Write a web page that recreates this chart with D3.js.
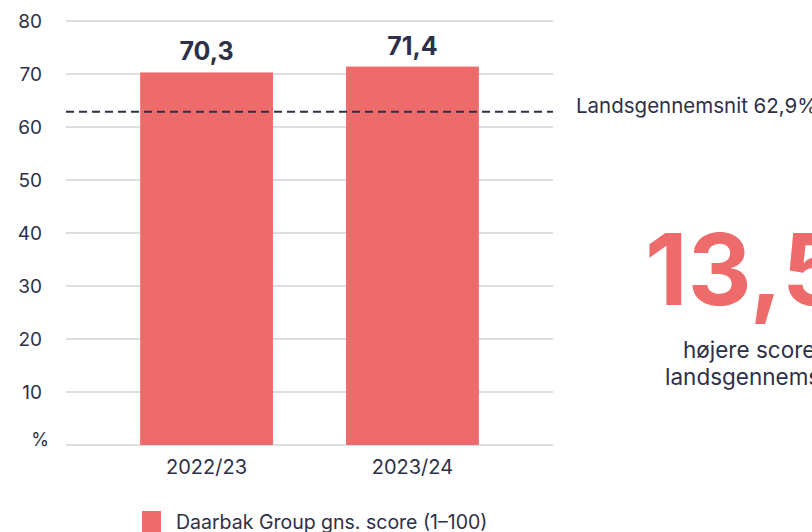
<!DOCTYPE html>
<html>
<head>
<meta charset="utf-8">
<script src="https://cdn.jsdelivr.net/npm/d3@7"></script>
<style>
  body { margin: 0; background: #fff; overflow: hidden; }
  text { font-family: Inter, "Noto Sans", sans-serif; fill: #2e3047; }
  .grid line { stroke: #d3d3d3; stroke-width: 1.5; }
  .bar { fill: #ee6b6b; }
</style>
</head>
<body>
<script>
// data
const categories = ["2022/23", "2023/24"];
const scores = [70.3, 71.4];
const national_avg = 62.9;
const y_ticks = [10, 20, 30, 40, 50, 60, 70, 80];
const series_name = "Daarbak Group gns. score (1–100)";
const big_number = "13,5";
const big_caption = ["højere score end", "landsgennemsnittet"];

const width = 812, height = 532;
const margin = {top: 21, right: 259, bottom: 87, left: 66};

const fmt = v => v.toFixed(1).replace(".", ",");

var svg = d3.select("body").append("svg")
    .attr("width", width)
    .attr("height", height);

var x = d3.scaleBand()
    .domain(categories)
    .range([margin.left, width - margin.right])
    .paddingInner(0.355)
    .paddingOuter(0.36);

var y = d3.scaleLinear()
    .domain([0, 80])
    .range([height - margin.bottom, margin.top]);

// gridlines
svg.append("g").attr("class", "grid")
    .selectAll("line")
    .data([0].concat(y_ticks))
    .enter().append("line")
    .attr("x1", margin.left)
    .attr("x2", width - margin.right)
    .attr("y1", d => y(d))
    .attr("y2", d => y(d));

// y labels
svg.append("g")
    .selectAll("text")
    .data(y_ticks)
    .enter().append("text")
    .attr("x", 42)
    .attr("y", d => y(d))
    .attr("dy", "0.36em")
    .attr("text-anchor", "end")
    .style("font-size", "19px")
    .text(d => d);

svg.append("text")
    .attr("x", 49)
    .attr("y", y(0) + 1)
    .attr("text-anchor", "end")
    .style("font-size", "18px")
    .text("%");

// bars
svg.selectAll(".bar")
    .data(scores)
    .enter().append("rect")
    .attr("class", "bar")
    .attr("x", (d, i) => x(categories[i]))
    .attr("width", x.bandwidth())
    .attr("y", d => y(d))
    .attr("height", d => y(0) - y(d));

// value labels
svg.selectAll(".val")
    .data(scores)
    .enter().append("text")
    .attr("class", "val")
    .attr("x", (d, i) => x(categories[i]) + x.bandwidth() / 2)
    .attr("y", d => y(d) - 12)
    .attr("text-anchor", "middle")
    .style("font-size", "25px")
    .style("font-weight", "bold")
    .text(d => fmt(d));

// x labels
svg.selectAll(".xl")
    .data(categories)
    .enter().append("text")
    .attr("class", "xl")
    .attr("x", d => x(d) + x.bandwidth() / 2)
    .attr("y", y(0) + 29)
    .attr("text-anchor", "middle")
    .style("font-size", "20px")
    .text(d => d);

// national average line
svg.append("line")
    .attr("x1", margin.left)
    .attr("x2", width - margin.right)
    .attr("y1", y(national_avg))
    .attr("y2", y(national_avg))
    .attr("stroke", "#2e3047")
    .attr("stroke-width", 2)
    .attr("stroke-dasharray", "8,5");

svg.append("text")
    .attr("x", 576)
    .attr("y", y(national_avg) + 1.5)
    .style("font-size", "20.5px")
    .text("Landsgennemsnit " + fmt(national_avg) + "%");

// big number
svg.append("text")
    .attr("x", 645)
    .attr("y", 305)
    .style("font-size", "99px")
    .style("font-weight", "bold")
    .style("fill", "#ee6b6b")
    .text(big_number);

svg.selectAll(".cap")
    .data(big_caption)
    .enter().append("text")
    .attr("class", "cap")
    .attr("x", (d, i) => i == 0 ? 683 : 665)
    .attr("y", (d, i) => 358 + i * 27)
    .style("font-size", "22.5px")
    .text(d => d);

// legend
svg.append("rect")
    .attr("x", 142)
    .attr("y", 511)
    .attr("width", 19)
    .attr("height", 21)
    .attr("class", "bar");

svg.append("text")
    .attr("x", 176)
    .attr("y", 529)
    .style("font-size", "19.5px")
    .text(series_name);
</script>
</body>
</html>
